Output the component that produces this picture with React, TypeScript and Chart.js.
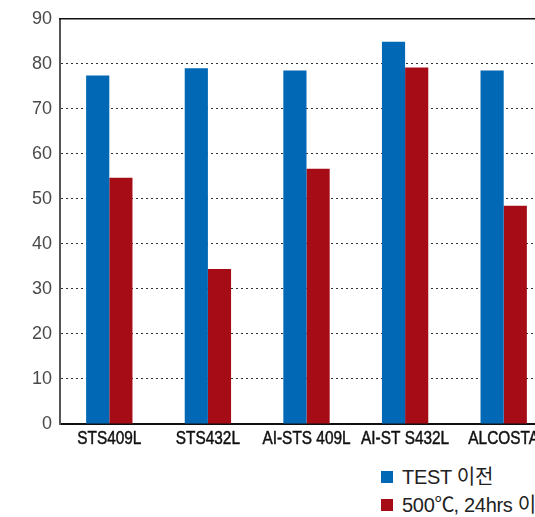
import React, { useEffect, useRef } from "react";
import { Chart, registerables } from "chart.js";

Chart.register(...registerables);

const categories = ["STS409L", "STS432L", "AI-STS 409L", "AI-ST S432L", "ALCOSTA"];
const beforeTest = [77.4, 79.0, 78.5, 84.9, 78.5];
const after500 = [54.7, 34.4, 56.7, 79.2, 48.5];
const seriesNames = ["TEST 이전", "500℃, 24hrs 이후"];
const colors = ["#0068b4", "#a60c16"];

const topLine = {
  id: "topLine",
  afterDraw(chart: any) {
    const { ctx, chartArea } = chart;
    ctx.save();
    ctx.strokeStyle = "#111";
    ctx.lineWidth = 1.5;
    ctx.beginPath();
    ctx.moveTo(chartArea.left - 1, chartArea.top);
    ctx.lineTo(chartArea.right, chartArea.top);
    ctx.stroke();
    ctx.restore();
  },
};

// draws the category labels in a condensed style (horizontally narrowed)
const narrowLabels = {
  id: "narrowLabels",
  afterDraw(chart: any) {
    const { ctx } = chart;
    const xs = chart.scales.x;
    const labels = chart.data.labels as string[];
    ctx.save();
    ctx.fillStyle = "#111";
    ctx.strokeStyle = "#111";
    ctx.lineWidth = 0.5;
    ctx.font = "19px 'Liberation Sans', Arial, sans-serif";
    ctx.textAlign = "center";
    ctx.textBaseline = "middle";
    const y = chart.chartArea.bottom + 15;
    labels.forEach((lab, i) => {
      const x = xs.getPixelForValue(i);
      ctx.save();
      ctx.translate(x, y);
      ctx.scale(0.81, 1);
      ctx.fillText(lab, 0, 0);
      ctx.strokeText(lab, 0, 0);
      ctx.restore();
    });
    ctx.restore();
  },
};

function LegendText({ text }: { text: string }) {
  const parts = text.split("℃");
  return (
    <span>
      {parts.map((p, i) => (
        <React.Fragment key={i}>
          {p}
          {i < parts.length - 1 ? <span style={{ letterSpacing: "-1px" }}>℃</span> : null}
        </React.Fragment>
      ))}
    </span>
  );
}

export default function App() {
  const ref = useRef<HTMLCanvasElement>(null);
  useEffect(() => {
    if (!ref.current) return;
    const chart = new Chart(ref.current, {
      type: "bar",
      data: {
        labels: categories,
        datasets: [
          { label: seriesNames[0], data: beforeTest, backgroundColor: colors[0], categoryPercentage: 0.47, barPercentage: 1 },
          { label: seriesNames[1], data: after500, backgroundColor: colors[1], categoryPercentage: 0.47, barPercentage: 1 },
        ],
      },
      options: {
        responsive: false,
        animation: false,
        layout: { padding: { left: 0, right: 3, top: 16, bottom: 0 } },
        plugins: { legend: { display: false }, tooltip: { enabled: false } },
        scales: {
          x: {
            grid: { display: false },
            border: { color: "#111", width: 2 },
            ticks: { display: false },
            afterFit: (s: any) => { s.height = 36; },
          },
          y: {
            min: 0,
            max: 90,
            ticks: {
              stepSize: 10,
              color: "#4a4a4a",
              padding: 8,
              font: { family: "'Liberation Sans', Arial, sans-serif", size: 18 },
            },
            grid: {
              drawTicks: false,
              color: (c: any) => (c.tick && (c.tick.value === 0 || c.tick.value === 90) ? "rgba(0,0,0,0)" : "#333"),
              lineWidth: 1,
            },
            border: { color: "#555", width: 2, dash: [2, 3] },
            afterFit: (s: any) => { s.width = 60; },
          },
        },
      },
      plugins: [topLine, narrowLabels],
    });
    return () => chart.destroy();
  }, []);

  const legendFont = "'Liberation Sans', 'Noto Sans CJK KR', sans-serif";
  return (
    <div style={{ position: "absolute", left: 0, top: 0, width: 535, height: 517, overflow: "hidden", background: "#fff" }}>
      <canvas ref={ref} width={556} height={460} style={{ position: "absolute", left: 0, top: 0, width: 556, height: 460 }} />
      {seriesNames.map((n, i) => (
        <div
          key={n}
          style={{
            position: "absolute",
            left: 381,
            top: 462 + i * 28,
            height: 26,
            display: "flex",
            alignItems: "center",
            whiteSpace: "nowrap",
            fontFamily: legendFont,
            fontSize: 20,
            letterSpacing: "-0.3px",
            color: "#222",
          }}
        >
          <span style={{ display: "inline-block", width: 12, height: 12, background: colors[i], marginRight: 9, marginTop: 4 }} />
          <LegendText text={n} />
        </div>
      ))}
    </div>
  );
}
